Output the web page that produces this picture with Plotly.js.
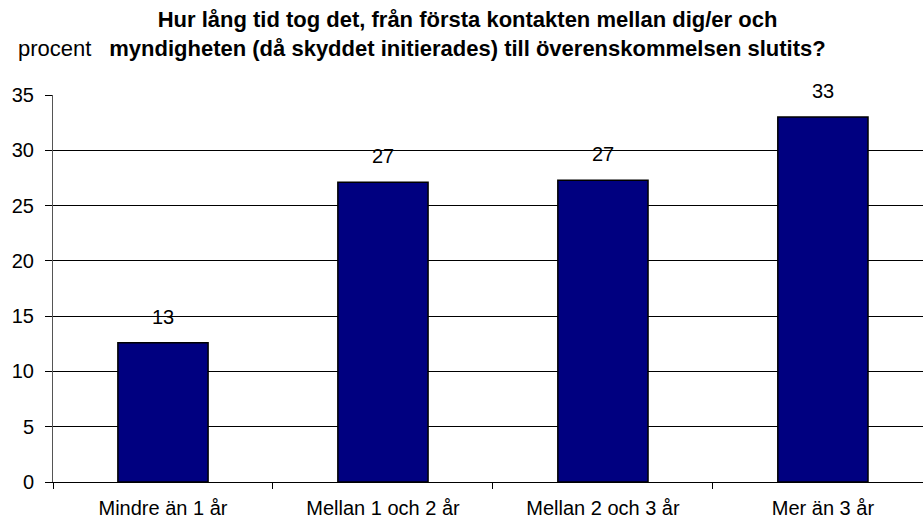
<!DOCTYPE html>
<html>
<head>
<meta charset="utf-8">
<script src="https://cdn.plot.ly/plotly-3.0.1.min.js"></script>
<style>
  html, body { margin: 0; padding: 0; background: #fff; }
  #plot { width: 923px; height: 519px; }
</style>
</head>
<body>
<div id="plot"></div>
<script>
// categories and values
let categories = ["Mindre än 1 år", "Mellan 1 och 2 år", "Mellan 2 och 3 år", "Mer än 3 år"];
let percentValues = [12.6, 27.1, 27.3, 33.0];
let valueLabels = ["13", "27", "27", "33"];
let yTicks = [0, 5, 10, 15, 20, 25, 30, 35];

let fontFamily = "Liberation Sans, Arial, sans-serif";

// bar trace
let barTrace = {
    x: categories,
    y: percentValues,
    type: "bar",
    width: 0.41,
    marker: { color: "#000080", line: { color: "#000000", width: 1.5 } },
    hoverinfo: "none"
};

// value labels above each bar
let labelNotes = [];
for (var i = 0; i < categories.length; i++) {
    labelNotes.push({
        x: categories[i],
        y: percentValues[i],
        text: valueLabels[i],
        showarrow: false,
        yanchor: "bottom",
        yshift: 13,
        font: { family: fontFamily, size: 20, color: "#000" }
    });
}

// unit label at the top left
labelNotes.push({
    xref: "paper", yref: "paper",
    x: -0.043, y: 1.0, xanchor: "left", yanchor: "middle", yshift: 47,
    text: "procent",
    showarrow: false,
    font: { family: fontFamily, size: 22, color: "#000" }
});

let layout = {
    width: 923,
    height: 519,
    margin: { l: 53, r: 0, t: 95, b: 37 },
    paper_bgcolor: "#fff",
    plot_bgcolor: "#fff",
    showlegend: false,
    title: {
        text: "<b>Hur lång tid tog det, från första kontakten mellan dig/er och<br>myndigheten (då skyddet initierades) till överenskommelsen slutits?</b>",
        x: 0.5065,
        xanchor: "center",
        y: 0.948,
        yanchor: "top",
        font: { family: fontFamily, size: 22, color: "#000" }
    },
    xaxis: {
        type: "category",
        range: [-0.5, 3.455],
        showgrid: false,
        showline: true,
        linecolor: "#000",
        linewidth: 1,
        ticks: "outside",
        tickson: "boundaries",
        ticklen: 6,
        tickcolor: "#000",
        ticklabelstandoff: 8,
        tickfont: { family: fontFamily, size: 20, color: "#000" }
    },
    yaxis: {
        range: [0, 35],
        tickvals: yTicks,
        showgrid: true,
        gridcolor: "#000",
        gridwidth: 1,
        showline: true,
        linecolor: "#555",
        linewidth: 1,
        zeroline: false,
        ticks: "outside",
        ticklen: 7,
        tickcolor: "#000",
        ticklabelstandoff: 7,
        tickfont: { family: fontFamily, size: 20, color: "#000" }
    },
    annotations: labelNotes
};

Plotly.newPlot("plot", [barTrace], layout, { staticPlot: true });
</script>
</body>
</html>
